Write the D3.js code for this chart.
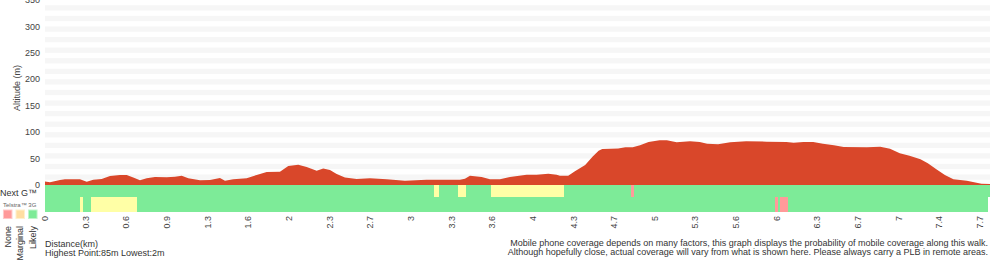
<html>
<head>
  <script src="https://d3js.org/d3.v7.min.js"></script>
  <style>
    body { margin: 0; background: #fff; }
    text { font-family: "Liberation Sans", Arial, Helvetica, sans-serif; }
  </style>
</head>
<body>
  <svg id="chart" width="1000" height="260"></svg>
  <script>
    // altitude profile
    const distKm = [0, 0.041, 0.123, 0.164, 0.287, 0.342, 0.396, 0.465, 0.533, 0.615, 0.670, 0.724, 0.779, 0.834,
      0.902, 0.998, 1.066, 1.121, 1.175, 1.271, 1.353, 1.435, 1.476, 1.544, 1.654, 1.736, 1.818, 1.927, 1.995,
      2.077, 2.146, 2.228, 2.282, 2.337, 2.392, 2.460, 2.556, 2.665, 2.802, 2.952, 3.130, 3.403, 3.444, 3.485,
      3.581, 3.649, 3.731, 3.813, 3.950, 4.032, 4.128, 4.196, 4.223, 4.291, 4.346, 4.43, 4.49, 4.54, 4.57,
      4.70, 4.76, 4.82, 4.88, 4.95, 5.04, 5.10, 5.18, 5.29, 5.37, 5.43, 5.52, 5.62, 5.75, 5.92, 6.08, 6.14,
      6.22, 6.30, 6.38, 6.47, 6.55, 6.74, 6.85, 6.93, 7.01, 7.09, 7.18, 7.24, 7.31, 7.38, 7.45, 7.56, 7.61,
      7.68, 7.75];
    const altM = [6.5, 5, 9.5, 10.7, 10.7, 6.3, 10, 11.4, 17, 19, 19, 14, 8.8, 12.6,
      15, 14.5, 15.8, 17.7, 12.6, 8.8, 9.5, 13.3, 8.2, 10.7, 12.6, 19, 24.6, 25, 36,
      38.5, 34, 27, 31, 28.4, 20.8, 14, 11.4, 12.6, 10.7, 8.2, 10, 10, 12, 17.7,
      15, 10.7, 10.7, 15, 19.6, 19.6, 21.5, 19.6, 17.7, 17.7, 26, 38, 53.6, 65, 68,
      69, 71.3, 71.3, 75, 81.4, 84.6, 84.6, 80.8, 82.7, 81.4, 78.2, 77, 80.8, 82.7, 82, 81.4, 80,
      81.4, 81.4, 78.2, 75, 72, 71.3, 72.6, 68.8, 60, 55.5, 48.6, 41, 29.7, 19, 10.7, 8.2, 5.7,
      2.5, 2];

    const totalKm = 7.75;
    const xTickLabels = ['0', '0.3', '0.6', '0.9', '1.3', '1.6', '2', '2.3', '2.7', '3', '3.3', '3.6',
      '4', '4.3', '4.7', '5', '5.3', '5.6', '6', '6.3', '6.7', '7', '7.4', '7.7'];
    const xTickKm = xTickLabels.map((d, i) => i / 3);
    const yTicks = [0, 50, 100, 150, 200, 250, 300, 350];

    // coverage: [from km, to km, level]
    const nextGCoverage = [[0, 3.19, 'Likely'], [3.19, 3.231, 'Marginal'], [3.231, 3.387, 'Likely'],
      [3.387, 3.453, 'Marginal'], [3.453, 3.657, 'Likely'], [3.657, 4.256, 'Marginal'],
      [4.256, 4.808, 'Likely'], [4.808, 4.830, 'None'], [4.830, 7.75, 'Likely']];
    const telstra3GCoverage = [[0, 0.287, 'Likely'], [0.287, 0.312, 'Marginal'], [0.312, 0.377, 'Likely'],
      [0.377, 0.754, 'Marginal'], [0.754, 5.987, 'Likely'], [5.987, 6.009, 'None'],
      [6.009, 6.027, 'Likely'], [6.027, 6.093, 'None'], [6.093, 7.73, 'Likely']];

    const levels = ['None', 'Marginal', 'Likely'];
    const barColor = d3.scaleOrdinal().domain(levels).range(['#ff9a9a', '#ffffa6', '#7deb98']);
    const legendFill = d3.scaleOrdinal().domain(levels).range(['#ff9a9a', '#ffdea2', '#7deb98']);
    const legendStroke = d3.scaleOrdinal().domain(levels).range(['#ffc8c8', '#fff0cc', '#bff5cb']);

    const svg = d3.select('#chart');
    const x = d3.scaleLinear().domain([0, totalKm]).range([45, 990]);
    const y = d3.scaleLinear().domain([0, 350]).range([185, 0]);

    // striped background
    svg.append('g').selectAll('rect').data(d3.range(10, 350, 20))
      .join('rect')
      .attr('x', x(0)).attr('width', x(totalKm) - x(0))
      .attr('y', d => y(d + 10)).attr('height', d => y(d) - y(d + 10))
      .attr('fill', '#f6f6f6');

    const profile = distKm.map((d, i) => ({ km: d, alt: altM[i] }));
    svg.append('path').datum(profile)
      .attr('fill', '#d9472a')
      .attr('d', d3.area().x(d => x(d.km)).y0(y(0)).y1(d => y(d.alt)));

    // coverage rows
    const rows = [
      { data: nextGCoverage, top: 185, bottom: 197 },
      { data: telstra3GCoverage, top: 197, bottom: 212 }
    ];
    rows.forEach(r => {
      svg.append('g').selectAll('rect').data(r.data)
        .join('rect')
        .attr('x', d => x(d[0]))
        .attr('width', d => x(d[1]) - x(d[0]))
        .attr('y', r.top).attr('height', r.bottom - r.top)
        .attr('fill', d => barColor(d[2]))
        .attr('shape-rendering', 'crispEdges');
    });

    // y axis labels
    svg.append('g').selectAll('text').data(yTicks)
      .join('text')
      .attr('x', 40).attr('y', d => y(d)).attr('dy', '0.35em')
      .attr('text-anchor', 'end')
      .attr('font-size', 9).attr('fill', '#444')
      .text(d => d);

    svg.append('text')
      .attr('transform', 'translate(20,88) rotate(-90)')
      .attr('text-anchor', 'middle')
      .attr('font-size', 9).attr('fill', '#444')
      .text('Altitude (m)');

    // x axis labels
    svg.append('g').selectAll('text').data(xTickKm)
      .join('text')
      .attr('transform', d => `translate(${x(d)},216) rotate(-90)`)
      .attr('dy', '0.35em')
      .attr('text-anchor', 'end')
      .attr('font-size', 9).attr('fill', '#444')
      .text((d, i) => xTickLabels[i]);

    // legend
    svg.append('text').attr('x', 0).attr('y', 195.5)
      .attr('font-size', 9).attr('fill', '#333').text('Next G™');
    svg.append('text').attr('x', 3).attr('y', 207)
      .attr('font-size', 6).attr('fill', '#666').text('Telstra™ 3G');

    const legendX = d3.scalePoint().domain(levels).range([7.7, 32.8]);
    svg.append('g').selectAll('rect').data(levels)
      .join('rect')
      .attr('x', d => legendX(d) - 4.25).attr('y', 210)
      .attr('width', 8.5).attr('height', 8.5)
      .attr('fill', d => legendFill(d))
      .attr('stroke', d => legendStroke(d)).attr('stroke-width', 1);
    svg.append('g').selectAll('text').data(levels)
      .join('text')
      .attr('transform', d => `translate(${legendX(d)},226) rotate(-90)`)
      .attr('dy', '0.35em')
      .attr('text-anchor', 'end')
      .attr('font-size', 9).attr('fill', '#333')
      .text(d => d);

    // footer
    svg.append('text').attr('x', 45).attr('y', 247)
      .attr('font-size', 9).attr('fill', '#333').text('Distance(km)');
    svg.append('text').attr('x', 45).attr('y', 256)
      .attr('font-size', 9).attr('fill', '#333').text('Highest Point:85m Lowest:2m');

    const notes = ['Mobile phone coverage depends on many factors, this graph displays the probability of mobile coverage along this walk.',
      'Although hopefully close, actual coverage will vary from what is shown here. Please always carry a PLB in remote areas.'];
    svg.append('g').selectAll('text').data(notes)
      .join('text')
      .attr('x', 988).attr('y', (d, i) => 246 + i * 9)
      .attr('text-anchor', 'end')
      .attr('font-size', 9).attr('fill', '#333')
      .text(d => d);
  </script>
</body>
</html>
